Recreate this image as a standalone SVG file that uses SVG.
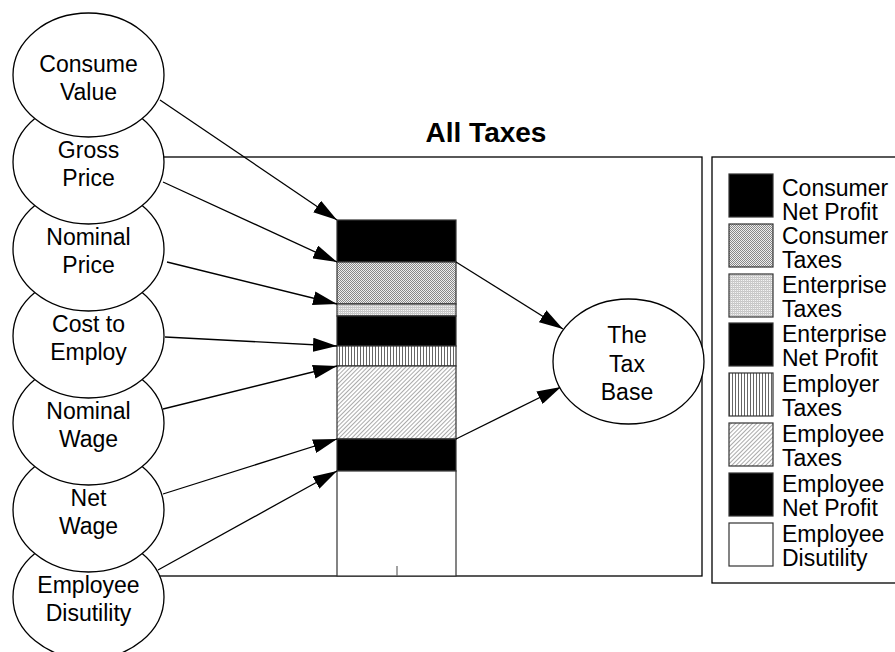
<svg xmlns="http://www.w3.org/2000/svg" width="895" height="652" viewBox="0 0 895 652">
<style>
text{font-family:"Liberation Sans",Arial,sans-serif;font-size:23px;fill:#000}
.t{text-anchor:middle}
.n ellipse{fill:#fff;stroke:#000;stroke-width:1.3}
.c line{stroke:#000;stroke-width:1.3;marker-end:url(#ah)}
.frame{fill:none;stroke:#000;stroke-width:1.3}
.band{stroke:#333;stroke-width:1.2}
.sw{stroke:#333;stroke-width:1.2}
</style>
<defs>
<marker id="ah" viewBox="0 0 24 14" markerWidth="24" markerHeight="14" refX="24" refY="7" orient="auto" markerUnits="userSpaceOnUse">
<path d="M0,0 L24,7 L0,14 z" fill="#000"/>
</marker>
<pattern id="pCons" width="2" height="2" patternUnits="userSpaceOnUse">
<rect width="2" height="2" fill="#eee"/>
<rect x="0" y="0" width="1" height="1" fill="#888"/>
<rect x="1" y="1" width="1" height="1" fill="#888"/>
</pattern>
<pattern id="pEnt" width="2" height="2" patternUnits="userSpaceOnUse">
<rect width="2" height="2" fill="#f4f4f4"/>
<rect x="0" y="0" width="1" height="2" fill="#ccc"/>
<rect x="1" y="1" width="1" height="1" fill="#c4c4c4"/>
</pattern>
<pattern id="pEmpr" width="3" height="3" patternUnits="userSpaceOnUse">
<rect width="3" height="3" fill="#fff"/>
<rect x="0" y="0" width="1" height="3" fill="#666"/>
</pattern>
<pattern id="pEmpe" width="3" height="3" patternUnits="userSpaceOnUse" patternTransform="rotate(45)">
<rect width="3" height="3" fill="#fff"/>
<rect x="0" y="0" width="1" height="3" fill="#aaa"/>
</pattern>
</defs>
<rect width="895" height="652" fill="#fff"/>

<text x="486" y="142" class="t" style="font-weight:bold;font-size:28px">All Taxes</text>
<rect class="frame" x="90" y="157" width="612" height="419"/>

<g id="bar">
<rect class="band" x="337" y="220" width="119" height="42" fill="#000"/>
<rect class="band" x="337" y="262" width="119" height="42" fill="url(#pCons)"/>
<rect class="band" x="337" y="304" width="119" height="12" fill="url(#pEnt)"/>
<rect class="band" x="337" y="316" width="119" height="30" fill="#000"/>
<rect class="band" x="337" y="346" width="119" height="20" fill="url(#pEmpr)"/>
<rect class="band" x="337" y="366" width="119" height="73" fill="url(#pEmpe)"/>
<rect class="band" x="337" y="439" width="119" height="32" fill="#000"/>
<rect class="band" x="337" y="471" width="119" height="105" fill="#fff"/>
<line x1="397" y1="566" x2="397" y2="576" stroke="#666" stroke-width="1.2"/>
</g>

<g id="connectors" class="c">
<line x1="160" y1="100" x2="337" y2="220"/>
<line x1="163" y1="182" x2="337" y2="262"/>
<line x1="167" y1="262" x2="337" y2="304"/>
<line x1="165" y1="337" x2="337" y2="346"/>
<line x1="163" y1="409" x2="337" y2="366"/>
<line x1="163" y1="494" x2="337" y2="439"/>
<line x1="158" y1="570" x2="337" y2="471"/>
<line x1="456" y1="262" x2="563" y2="329"/>
<line x1="456" y1="439" x2="561" y2="387"/>
</g>

<g id="employee-disutility" class="n">
<ellipse cx="88.5" cy="597" rx="75.5" ry="62"/>
<text class="t" x="88.5" y="593">Employee</text><text class="t" x="88.5" y="621">Disutility</text>
</g>
<g id="net-wage" class="n">
<ellipse cx="88.5" cy="510" rx="75.5" ry="62"/>
<text class="t" x="88.5" y="506">Net</text><text class="t" x="88.5" y="534">Wage</text>
</g>
<g id="nominal-wage" class="n">
<ellipse cx="88.5" cy="423" rx="75.5" ry="62"/>
<text class="t" x="88.5" y="419">Nominal</text><text class="t" x="88.5" y="447">Wage</text>
</g>
<g id="cost-to-employ" class="n">
<ellipse cx="88.5" cy="336" rx="75.5" ry="62"/>
<text class="t" x="88.5" y="332">Cost to</text><text class="t" x="88.5" y="360">Employ</text>
</g>
<g id="nominal-price" class="n">
<ellipse cx="88.5" cy="249" rx="75.5" ry="62"/>
<text class="t" x="88.5" y="245">Nominal</text><text class="t" x="88.5" y="273">Price</text>
</g>
<g id="gross-price" class="n">
<ellipse cx="88.5" cy="162" rx="75.5" ry="62"/>
<text class="t" x="88.5" y="158">Gross</text><text class="t" x="88.5" y="186">Price</text>
</g>
<g id="consume-value" class="n">
<ellipse cx="88.5" cy="75" rx="75.5" ry="62"/>
<text class="t" x="88.5" y="72">Consume</text><text class="t" x="88.5" y="100">Value</text>
</g>
<g id="tax-base" class="n">
<ellipse cx="628.5" cy="361.5" rx="75.5" ry="62.5"/>
<text class="t" x="627" y="343">The</text><text class="t" x="627" y="372">Tax</text><text class="t" x="627" y="400">Base</text>
</g>

<g id="legend">
<rect x="712" y="157" width="200" height="426" fill="none" stroke="#000" stroke-width="1.3"/>
<rect class="sw" x="729" y="174" width="44" height="43" fill="#000"/>
<text x="782" y="196">Consumer</text><text x="782" y="220">Net Profit</text>
<rect class="sw" x="729" y="224" width="44" height="43" fill="url(#pCons)"/>
<text x="782" y="244">Consumer</text><text x="782" y="268">Taxes</text>
<rect class="sw" x="729" y="274" width="44" height="43" fill="url(#pEnt)"/>
<text x="782" y="293">Enterprise</text><text x="782" y="317">Taxes</text>
<rect class="sw" x="729" y="323" width="44" height="43" fill="#000"/>
<text x="782" y="342">Enterprise</text><text x="782" y="366">Net Profit</text>
<rect class="sw" x="729" y="373" width="44" height="43" fill="url(#pEmpr)"/>
<text x="782" y="392">Employer</text><text x="782" y="416">Taxes</text>
<rect class="sw" x="729" y="423" width="44" height="43" fill="url(#pEmpe)"/>
<text x="782" y="442">Employee</text><text x="782" y="466">Taxes</text>
<rect class="sw" x="729" y="473" width="44" height="43" fill="#000"/>
<text x="782" y="492">Employee</text><text x="782" y="516">Net Profit</text>
<rect class="sw" x="729" y="523" width="44" height="43" fill="#fff"/>
<text x="782" y="542">Employee</text><text x="782" y="566">Disutility</text>
</g>
</svg>
